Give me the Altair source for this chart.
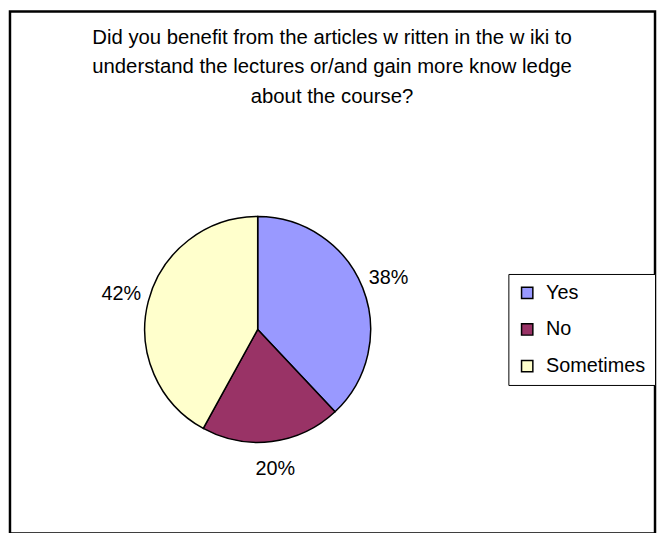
import altair as alt
import pandas as pd

categories = ["Yes", "No", "Sometimes"]
percentages = [38, 20, 42]
colors = ["#9999FF", "#993366", "#FFFFCC"]
title_lines = [
    "Did you benefit from the articles w ritten in the w iki to",
    "understand the lectures or/and gain more know ledge",
    "about the course?",
]

df = pd.DataFrame({
    "category": categories,
    "value": percentages,
    "idx": list(range(len(categories))),
    "label": [f"{v}%" for v in percentages],
})

FONT = "Liberation Sans"
CX, CY = 250, 321

base = alt.Chart(df).encode(
    theta=alt.Theta("value:Q", stack=True),
    order=alt.Order("idx:Q"),
    x=alt.value(CX),
    y=alt.value(CY),
)

pie = base.mark_arc(outerRadius=114, stroke="black", strokeWidth=1.5).encode(
    color=alt.Color(
        "category:N",
        scale=alt.Scale(domain=categories, range=colors),
        sort=categories,
        legend=alt.Legend(
            title=None,
            orient="none",
            legendX=503,
            legendY=265,
            padding=9,
            strokeColor="black",
            fillColor="white",
            symbolType="square",
            symbolSize=130,
            symbolStrokeColor="black",
            symbolStrokeWidth=1.5,
            symbolOpacity=1,
            labelFont=FONT,
            labelFontSize=20,
            labelColor="black",
            labelOffset=9,
            rowPadding=17,
        ),
    )
)

labels = base.mark_text(
    radius=142, font=FONT, fontSize=20, color="black", align="center", baseline="middle"
).encode(
    detail="category:N",
    text="label:N",
)

title_df = pd.DataFrame({"t": ["\n".join(title_lines)]})
title = alt.Chart(title_df).mark_text(
    font=FONT, fontSize=20.5, color="black", align="center", baseline="alphabetic",
    lineBreak="\n", lineHeight=29.5,
).encode(
    x=alt.value(325),
    y=alt.value(33),
    text="t:N",
)

chart = alt.layer(pie, labels, title).properties(
    width=651,
    height=527,
    autosize=alt.AutoSizeParams(type="none"),
    padding={"left": 2, "top": 1, "right": 2, "bottom": 1},
    background="white",
).configure_view(stroke="black", strokeWidth=2.5)

chart.save("out.html", embed_options={"renderer": "svg", "actions": False})
